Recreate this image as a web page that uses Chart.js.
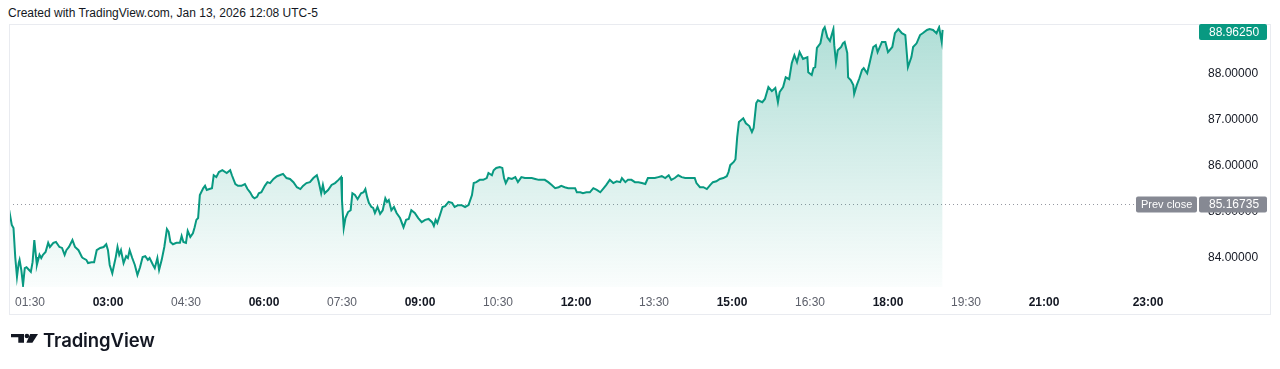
<!DOCTYPE html>
<html>
<head>
<meta charset="utf-8">
<script src="https://cdn.jsdelivr.net/npm/chart.js"></script>
<style>
  html, body { margin: 0; padding: 0; background: #ffffff; }
  body { width: 1280px; height: 369px; position: relative; overflow: hidden; font-family: 'Liberation Sans', Arial, sans-serif; }
  #chart { position: absolute; left: 0; top: 0; }
  #header { position: absolute; left: 8px; top: 6px; font-size: 12px; color: #131722; white-space: nowrap; }
  #logoIcon { position: absolute; left: 0; top: 330px; }
  #logoText { position: absolute; left: 43px; top: 331px; font-family: Inter, 'Noto Sans', sans-serif; font-weight: 600; font-size: 18.5px; line-height: 19px; color: #131722; letter-spacing: -0.1px; }
</style>
</head>
<body>
<div id="header">Created with TradingView.com, Jan 13, 2026 12:08 UTC-5</div>
<canvas id="chart" width="1280" height="369"></canvas>
<svg id="logoIcon" width="40" height="16" viewBox="0 0 40 16">
  <path d="M11 4 H24 V12.7 H18.3 V7.3 H11 Z" fill="#131722"/>
  <circle cx="26.9" cy="6" r="2.3" fill="#131722"/>
  <polygon points="30.2,4 38,4 32.4,12.7 26.4,12.7" fill="#131722"/>
</svg>
<div id="logoText">TradingView</div>

<script>
// price series (time of day, UTC-5)
const times = [
  '01:06','01:09','01:11','01:13','01:15','01:17','01:18','01:20','01:22','01:24','01:26','01:29','01:31','01:33','01:35','01:37','01:38','01:41','01:43','01:45','01:48','01:51','01:53','01:57',
  '02:00','02:04','02:07','02:10','02:12','02:15','02:19','02:22','02:26','02:30','02:31','02:35','02:37','02:41','02:44','02:47','02:51','02:55','02:58',
  '03:00','03:02','03:05','03:07','03:09','03:11','03:13','03:15','03:18','03:21','03:23','03:25','03:28','03:31','03:34','03:37','03:40','03:43','03:46','03:48','03:52','03:54','03:57','03:59',
  '04:02','04:05','04:08','04:10','04:12','04:15','04:19','04:23','04:25','04:27','04:30','04:32','04:35','04:38','04:40','04:42','04:44','04:46','04:50','04:52','04:54','04:57',
  '05:00','05:02','05:05','05:08','05:12','05:17','05:21','05:23','05:27','05:30','05:34','05:38','05:41','05:44','05:47','05:49','05:52','05:54','05:57',
  '06:01','06:04','06:07','06:11','06:15','06:18','06:22','06:26','06:30','06:34','06:38','06:42','06:45','06:49','06:53','06:57',
  '07:01','07:03','07:06','07:08','07:10','07:14','07:18','07:22','07:26','07:29','07:30','07:32','07:34','07:37','07:40','07:42','07:45','07:48','07:52','07:55','07:57','07:59',
  '08:01','08:04','08:06','08:08','08:11','08:14','08:17','08:20','08:22','08:24','08:27','08:30','08:33','08:37','08:41','08:44','08:47','08:50','08:54','08:58',
  '09:02','09:06','09:10','09:14','09:16','09:18','09:20','09:23','09:26','09:29','09:33','09:37','09:40','09:44','09:48','09:52','09:56',
  '10:00','10:02','10:05','10:09','10:13','10:17','10:19','10:23','10:25','10:28','10:32','10:35','10:37','10:39','10:42','10:46','10:50','10:53','10:57',
  '11:01','11:05','11:09','11:13','11:17','11:20','11:24','11:28','11:32','11:36','11:40','11:43','11:47','11:51','11:55','11:59',
  '12:01','12:05','12:08','12:12','12:16','12:20','12:24','12:28','12:32','12:35','12:39','12:43','12:47','12:51','12:53','12:57',
  '13:00','13:04','13:08','13:12','13:16','13:20','13:23','13:27','13:31','13:35','13:39','13:43','13:47','13:50','13:54','13:58',
  '14:02','14:06','14:10','14:13','14:17','14:19','14:23','14:27','14:31','14:35','14:38','14:42','14:46','14:50','14:54','14:56','14:58',
  '15:02','15:04','15:06','15:08','15:13','15:16','15:20','15:23','15:25','15:28','15:30','15:35','15:38','15:42','15:46','15:50','15:53','15:55','15:59',
  '16:02','16:06','16:09','16:12','16:15','16:18','16:22','16:27','16:28','16:32','16:34','16:36','16:38','16:42','16:45','16:47','16:50','16:53','16:57','16:58',
  '17:00','17:02','17:06','17:08','17:10','17:13','17:14','17:17','17:20','17:21','17:24','17:27','17:30','17:32','17:36','17:39','17:43','17:46','17:48','17:53','17:57',
  '18:00','18:05','18:08','18:12','18:16','18:20','18:23','18:27','18:29','18:33','18:37','18:40','18:45','18:48','18:52','18:56','18:59',
  '19:02','19:03'
];

const prices = [
  85.04,84.72,84.65,84.02,83.59,83.89,83.96,83.74,83.41,83.78,83.80,83.74,83.70,83.91,84.39,84.02,83.85,84.07,84.00,84.07,84.13,84.33,84.24,84.33,
  84.35,84.24,84.22,84.07,84.17,84.24,84.39,84.24,84.17,84.02,84.00,83.96,83.89,83.91,83.91,84.17,84.22,84.24,84.30,
  84.17,83.85,83.67,83.85,84.02,84.24,84.07,84.17,83.89,84.04,84.00,84.17,84.00,83.85,83.63,83.80,84.02,84.04,83.96,84.00,83.85,83.78,84.00,83.74,
  83.96,84.24,84.63,84.57,84.35,84.30,84.33,84.33,84.48,84.35,84.33,84.59,84.46,84.54,84.67,84.83,84.87,85.37,85.52,85.57,85.48,85.50,
  85.52,85.80,85.76,85.87,85.91,85.85,85.91,85.80,85.61,85.57,85.57,85.61,85.50,85.43,85.33,85.30,85.33,85.41,85.43,
  85.57,85.65,85.63,85.72,85.78,85.80,85.83,85.74,85.72,85.65,85.54,85.50,85.57,85.63,85.65,85.74,
  85.80,85.67,85.41,85.59,85.41,85.48,85.59,85.63,85.70,85.76,85.26,84.65,84.87,85.00,85.04,85.41,85.37,85.28,85.41,85.43,85.50,85.33,
  85.20,85.11,85.09,84.98,85.11,84.96,85.04,85.30,85.22,85.26,85.04,85.11,84.98,84.87,84.67,84.83,84.85,85.04,84.98,84.87,
  84.78,84.83,84.85,84.78,84.70,84.83,84.76,84.93,85.11,85.13,85.22,85.20,85.11,85.15,85.15,85.11,85.15,
  85.37,85.63,85.65,85.70,85.70,85.74,85.85,85.80,85.91,85.96,85.98,85.96,85.74,85.63,85.74,85.72,85.76,85.65,85.76,
  85.74,85.74,85.74,85.72,85.70,85.70,85.70,85.65,85.59,85.52,85.54,85.57,85.54,85.52,85.52,85.52,
  85.43,85.43,85.41,85.43,85.43,85.52,85.48,85.43,85.52,85.59,85.70,85.63,85.67,85.65,85.74,85.65,
  85.70,85.70,85.65,85.65,85.63,85.61,85.74,85.74,85.74,85.76,85.78,85.74,85.80,85.70,85.74,85.80,
  85.76,85.74,85.74,85.74,85.74,85.63,85.54,85.54,85.50,85.59,85.65,85.67,85.72,85.74,85.78,85.87,86.02,
  86.09,86.15,86.63,86.96,87.04,86.93,86.87,86.74,86.83,87.37,87.43,87.39,87.46,87.72,87.63,87.70,87.39,87.61,87.72,
  87.93,87.89,88.24,88.41,88.26,88.48,88.33,88.37,88.04,87.98,88.13,88.15,88.57,88.67,88.96,89.02,88.80,88.72,88.98,88.63,
  88.26,88.52,88.59,88.67,88.70,88.46,87.93,87.87,87.76,87.57,87.76,87.91,88.09,88.13,88.02,88.26,88.59,88.63,88.48,88.70,88.70,
  88.48,88.59,88.89,88.98,88.89,88.85,88.15,88.37,88.59,88.67,88.85,88.89,88.96,88.98,88.96,88.89,89.02,
  88.70,88.9625
];

const xTickLabels = ['01:30','03:00','04:30','06:00','07:30','09:00','10:30','12:00','13:30','15:00','16:30','18:00','19:30','21:00','23:00'];
const yTickValues = [84, 85, 86, 87, 88];
const prevClose = 85.16735;
const lastPrice = 88.9625;

const THEME = {
  line: '#089981',
  text: '#131722',
  textMuted: '#5d606b',
  frame: '#e9ebf0',
  dots: '#9598a1',
  tagGrey: '#868993'
};

function toMin(t) {
  const [h, m] = t.split(':').map(Number);
  return h * 60 + m;
}

function tag(ctx, x, yc, w, h, bg, text, textX, size) {
  ctx.fillStyle = bg;
  ctx.beginPath();
  ctx.roundRect(x, yc - h / 2, w, h, 2);
  ctx.fill();
  ctx.fillStyle = '#ffffff';
  ctx.font = size + "px 'Liberation Sans', Arial, sans-serif";
  ctx.textBaseline = 'middle';
  ctx.textAlign = 'left';
  ctx.fillText(text, textX, yc + 0.5);
}

const overlay = {
  id: 'overlay',
  beforeDatasetsDraw(chart) {
    const { ctx, chartArea, scales } = chart;
    const y = Math.round(scales.y.getPixelForValue(prevClose)) + 0.5;
    ctx.save();
    ctx.strokeStyle = THEME.dots;
    ctx.lineWidth = 1;
    ctx.setLineDash([1, 3]);
    ctx.beginPath();
    ctx.moveTo(chartArea.left, y);
    ctx.lineTo(chartArea.right - 62, y);
    ctx.stroke();
    ctx.restore();
  },
  afterDraw(chart) {
    const { ctx, chartArea, scales } = chart;
    ctx.save();
    // outer frame
    ctx.strokeStyle = THEME.frame;
    ctx.lineWidth = 1;
    ctx.strokeRect(chartArea.left + 0.5, chartArea.top + 0.5, scales.y.right - chartArea.left, scales.x.bottom - chartArea.top);

    const labelX = chartArea.right + 11;
    // prev close tags
    const yPrev = Math.round(scales.y.getPixelForValue(prevClose)) + 0.5;
    tag(ctx, chartArea.right - 62, yPrev, 61, 16, THEME.tagGrey, 'Prev close', chartArea.right - 57, 11);
    tag(ctx, chartArea.right + 1, yPrev, 68, 16, THEME.tagGrey, prevClose.toFixed(5), labelX, 12);
    // last price tag
    const yLast = Math.max(scales.y.getPixelForValue(lastPrice), chartArea.top + 8);
    tag(ctx, chartArea.right + 1, yLast, 68, 16, THEME.line, lastPrice.toFixed(5), labelX, 12);
    ctx.restore();
  }
};

Chart.defaults.font.family = "'Liberation Sans', Arial, sans-serif";

const ctx = document.getElementById('chart').getContext('2d');
new Chart(ctx, {
  type: 'line',
  data: {
    datasets: [{
      data: times.map((t, i) => ({ x: toMin(t), y: prices[i] })),
      borderColor: THEME.line,
      borderWidth: 2,
      pointRadius: 0,
      tension: 0,
      fill: 'start',
      backgroundColor: (c) => {
        const area = c.chart.chartArea;
        if (!area) return 'rgba(8,153,129,0.15)';
        const g = c.chart.ctx.createLinearGradient(0, area.top, 0, area.bottom);
        g.addColorStop(0, 'rgba(8,153,129,0.32)');
        g.addColorStop(1, 'rgba(8,153,129,0.02)');
        return g;
      }
    }]
  },
  options: {
    responsive: false,
    animation: false,
    layout: { padding: { left: 9, top: 24, right: 10, bottom: 55 } },
    plugins: {
      legend: { display: false },
      tooltip: { enabled: false }
    },
    scales: {
      x: {
        type: 'linear',
        min: 65.8,
        max: 1437.7,
        grid: { display: false, drawTicks: false },
        border: { display: false },
        afterBuildTicks: (axis) => {
          axis.ticks = xTickLabels.map(l => ({ value: toMin(l) }));
        },
        afterFit: (axis) => { axis.height = 27; },
        ticks: {
          autoSkip: false,
          maxRotation: 0,
          padding: 8,
          callback: (v) => xTickLabels.find(l => toMin(l) === v) || '',
          color: (c) => (c.tick && c.tick.value % 60 === 0) ? THEME.text : THEME.textMuted,
          font: (c) => ({ size: 12, weight: (c.tick && c.tick.value % 60 === 0) ? 'bold' : 'normal' })
        }
      },
      y: {
        position: 'right',
        min: 83.37,
        max: 89.09,
        grid: { display: false, drawTicks: false },
        border: { display: false },
        afterBuildTicks: (axis) => {
          axis.ticks = yTickValues.map(v => ({ value: v }));
        },
        afterFit: (axis) => { axis.width = 72; },
        ticks: {
          padding: 10,
          color: THEME.text,
          font: { size: 12 },
          callback: (v) => v.toFixed(5)
        }
      }
    }
  },
  plugins: [overlay]
});
</script>
</body>
</html>
